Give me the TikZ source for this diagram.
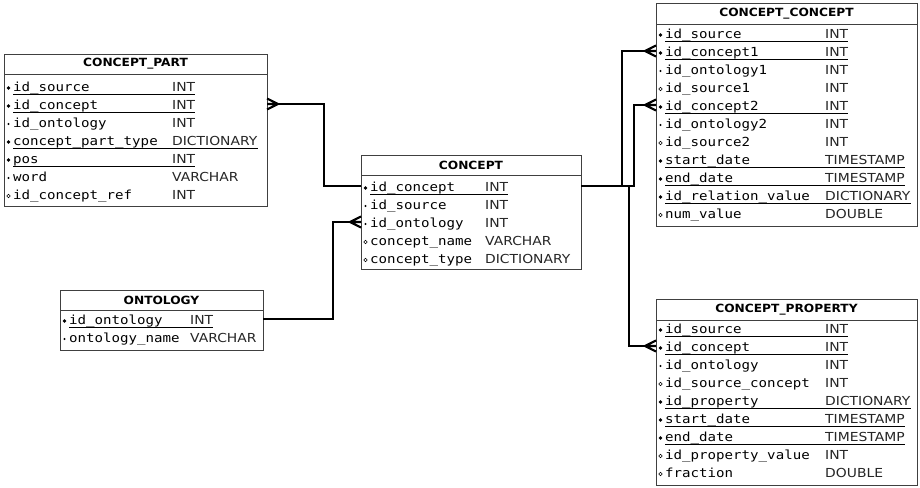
\documentclass[tikz,border=0pt]{standalone}
\usepackage{fontspec}
\setmainfont{DejaVu Sans}
\newfontfamily\namefont[FakeStretch=1.13]{DejaVu Sans Mono}
\newfontfamily\typefont[FakeStretch=1.12]{DejaVu Sans}
\newfontfamily\titlefont[FakeStretch=1.08]{DejaVu Sans}
\tikzset{
  tablebox/.style={draw=black!75, line width=0.9pt, fill=white, inner sep=0pt},
  sepline/.style={draw=black!75, line width=0.9pt},
  titletext/.style={inner sep=0pt, font=\titlefont\bfseries\fontsize{11.3}{13}\selectfont},
  nametext/.style={anchor=base west, inner sep=0pt, font=\namefont\fontsize{12.5}{14}\selectfont},
  typetext/.style={anchor=base west, inner sep=0pt, text=black!85, font=\typefont\fontsize{12.4}{14}\selectfont},
  uline/.style={draw=black, line width=0.8pt},
  kb/.style={circle, fill=black, inner sep=0pt, minimum size=3.8pt},
  nb/.style={circle, fill=black, inner sep=0pt, minimum size=2.4pt},
  ob/.style={circle, draw=black, line width=0.55pt, inner sep=0pt, minimum size=3.6pt},
  rel/.style={draw=black, line width=2.2pt},
}
% #1 name #2 L #3 R #4 top #5 sep #6 bottom #7 first row y #8 type x #9 title
\newcommand\ertable[9]{%
  \node[tablebox, minimum width={(#3-#2)*1pt}, minimum height={(#6-#4)*1pt}] (#1) at ({(#2+#3)/2},{(#4+#6)/2}) {};
  \draw[sepline] (#2,#5) -- (#3,#5);
  \node[titletext] (#1-title) at ({(#2+#3)/2},{(#4+#5)/2}) {#9};
  \foreach \b/\n/\t/\u [count=\i from 0] in \rows {
    \pgfmathsetmacro\yy{#7+18*\i}
    \coordinate (#1-L\i) at (#2,\yy-2);
    \coordinate (#1-R\i) at (#3,\yy-2);
    \node[\b] (#1-b\i) at (#2+4.5,\yy) {};
    \node[nametext] (#1-n\i) at (#2+9,\yy+3.6) {\n};
    \node[typetext] (#1-t\i) at (#8,\yy+3.6) {\t};
    \ifnum\u=1
      \draw[uline] ([yshift=-2.8pt]#1-n\i.base west) -- ([yshift=-2.8pt]#1-t\i.base east);
    \fi
  }
}
\newcommand\footL[1]{\draw[rel] ([yshift=5.5pt]#1) -- ([xshift=-11pt]#1) -- ([yshift=-5.5pt]#1) (#1) -- ([xshift=-11pt]#1);}
\newcommand\footR[1]{\draw[rel] ([yshift=5.5pt]#1) -- ([xshift=11pt]#1) -- ([yshift=-5.5pt]#1) (#1) -- ([xshift=11pt]#1);}
\begin{document}
\begin{tikzpicture}[x=1pt,y=-1pt]
\fill[white] (0,0) rectangle (920,487);
\useasboundingbox (0,0) rectangle (920,487);

\def\rows{kb/id\_source/INT/1, kb/id\_concept/INT/1, nb/id\_ontology/INT/0, kb/concept\_part\_type/DICTIONARY/1, kb/pos/INT/1, nb/word/VARCHAR/0, ob/id\_concept\_ref/INT/0}
\ertable{cp}{4}{267}{54}{74}{206}{88}{172}{CONCEPT\_PART}

\def\rows{kb/id\_concept/INT/1, nb/id\_source/INT/0, nb/id\_ontology/INT/0, ob/concept\_name/VARCHAR/0, ob/concept\_type/DICTIONARY/0}
\ertable{c}{361}{581}{155}{175}{269}{188}{485}{CONCEPT}

\def\rows{kb/id\_ontology/INT/1, nb/ontology\_name/VARCHAR/0}
\ertable{ont}{60}{263}{290}{310}{350}{321}{190}{ONTOLOGY}

\def\rows{kb/id\_source/INT/1, kb/id\_concept1/INT/1, nb/id\_ontology1/INT/0, ob/id\_source1/INT/0, kb/id\_concept2/INT/1, nb/id\_ontology2/INT/0, ob/id\_source2/INT/0, kb/start\_date/TIMESTAMP/1, kb/end\_date/TIMESTAMP/1, kb/id\_relation\_value/DICTIONARY/1, ob/num\_value/DOUBLE/0}
\ertable{cc}{656}{917}{3}{24}{226}{35}{825}{CONCEPT\_CONCEPT}

\def\rows{kb/id\_source/INT/1, kb/id\_concept/INT/1, nb/id\_ontology/INT/0, ob/id\_source\_concept/INT/0, kb/id\_property/DICTIONARY/1, kb/start\_date/TIMESTAMP/1, kb/end\_date/TIMESTAMP/1, ob/id\_property\_value/INT/0, ob/fraction/DOUBLE/0}
\ertable{cprop}{656}{917}{299}{320}{485}{330}{825}{CONCEPT\_PROPERTY}

\coordinate (jP) at (324,0);
\coordinate (jO) at (333,0);
\coordinate (jA) at (622,0);
\coordinate (jB) at (634,0);
\coordinate (jC) at (629,0);

\footR{cp-R1}
\draw[rel] ([xshift=11pt]cp-R1) -- (cp-R1 -| jP) |- (c-L0);
\draw[rel] (ont-R0) -- (ont-R0 -| jO) |- ([xshift=-11pt]c-L2);
\footL{c-L2}
\draw[rel] (c-R0) -- (c-R0 -| jB) |- ([xshift=-11pt]cc-L4);
\draw[rel] (c-R0 -| jA) |- ([xshift=-11pt]cc-L1);
\draw[rel] (c-R0 -| jC) |- ([xshift=-11pt]cprop-L1);
\footL{cc-L1}
\footL{cc-L4}
\footL{cprop-L1}
\end{tikzpicture}
\end{document}
